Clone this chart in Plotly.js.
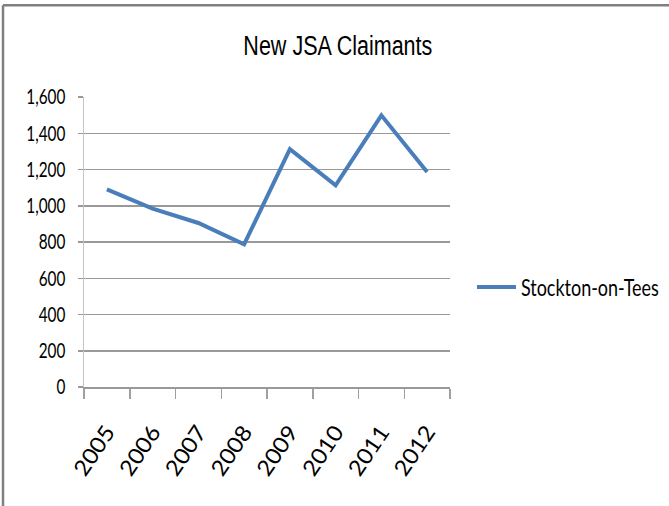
<!DOCTYPE html>
<html>
<head>
<meta charset="utf-8">
<script src="https://cdn.plot.ly/plotly-3.0.1.min.js"></script>
<style>
  html, body { margin: 0; padding: 0; background: #fff; width: 669px; height: 506px; overflow: hidden; }
  #chart { position: absolute; left: 0; top: 0; width: 669px; height: 506px; }
</style>
</head>
<body>
<div id="chart"></div>
<script>
var years = ["2005", "2006", "2007", "2008", "2009", "2010", "2011", "2012"];
var claimants = [1090, 984, 905, 787, 1312, 1113, 1499, 1186];
var seriesName = "Stockton-on-Tees";
var chartTitle = "New JSA Claimants";
var yTickValues = [0, 200, 400, 600, 800, 1000, 1200, 1400, 1600];

var labelFont = "Lato, 'Open Sans', 'Noto Sans', sans-serif";
var titleFont = "'Liberation Sans', Arial, sans-serif";

var trace = {
  x: years,
  y: claimants,
  type: "scatter",
  mode: "lines",
  name: seriesName,
  line: { color: "#4a7ebb", width: 4 }
};

var frameLine = { color: "#808080", width: 2.5 };

var layout = {
  width: 669,
  height: 506,
  paper_bgcolor: "#fff",
  plot_bgcolor: "rgba(0,0,0,0)",
  margin: { l: 84, r: 219, t: 97, b: 119, autoexpand: false },
  title: {
    text: chartTitle,
    x: 0.505, xanchor: "center",
    y: 0.91, yanchor: "middle",
    font: { family: titleFont, size: 28, color: "#000" }
  },
  showlegend: true,
  legend: {
    x: 1.06, xanchor: "left",
    y: 0.345, yanchor: "middle",
    itemwidth: 39,
    font: { family: labelFont, size: 23, color: "#000" },
    bgcolor: "rgba(0,0,0,0)"
  },
  shapes: [
    // outer chart-area frame (top and left edges visible in the reference)
    { type: "line", xref: "paper", yref: "paper", x0: -0.2213, x1: 1.65, y0: 1.316, y1: 1.316, line: frameLine, layer: "above" },
    { type: "line", xref: "paper", yref: "paper", x0: -0.2213, x1: -0.2213, y0: 1.316, y1: -0.45, line: frameLine, layer: "above" }
  ],
  xaxis: {
    type: "category",
    range: [-0.5, 7.5],
    tickson: "boundaries",
    ticks: "outside",
    ticklen: 10,
    tickcolor: "#a0a0a0",
    tickwidth: 1.5,
    showline: true,
    linecolor: "#999",
    linewidth: 1.5,
    showgrid: false,
    tickangle: -56,
    tickfont: { family: labelFont, size: 22, color: "#000" },
    ticklabelstandoff: 22,
    fixedrange: true
  },
  yaxis: {
    range: [0, 1600],
    tickvals: yTickValues,
    tickformat: ",d",
    ticks: "outside",
    ticklen: 5,
    tickcolor: "#999",
    tickwidth: 1.5,
    showline: true,
    linecolor: "#c4c4c4",
    linewidth: 1.5,
    showgrid: true,
    gridcolor: "#999",
    gridwidth: 1.5,
    zeroline: false,
    tickfont: { family: labelFont, size: 21, color: "#000" },
    ticklabelstandoff: 8,
    fixedrange: true
  }
};

// The reference uses a horizontally compressed (narrow) typeface; emulate it by
// narrowing the real text glyphs around their anchor points.
function squash(el, s) {
  var x = parseFloat(el.getAttribute("x")) || 0;
  var y = parseFloat(el.getAttribute("y")) || 0;
  var t = el.getAttribute("transform") || "";
  el.setAttribute("transform", t + " translate(" + x + "," + y + ") scale(" + s + ",1) translate(" + (-x) + "," + (-y) + ")");
}
function squashToWidth(el, target) {
  try {
    var w = el.getBBox().width;
    if (w > 0) squash(el, target / w);
  } catch (e) {}
}

Plotly.newPlot("chart", [trace], layout, { displayModeBar: false, staticPlot: true }).then(function (gd) {
  try {
    gd.querySelectorAll(".ytick text").forEach(function (el) { squash(el, 0.73); });
    gd.querySelectorAll(".xtick text").forEach(function (el) { squash(el, 1.08); });
    var title = gd.querySelector(".gtitle");
    if (title) squashToWidth(title, 189);
    var lt = gd.querySelector(".legendtext");
    if (lt) squashToWidth(lt, 138);
  } catch (e) {}
});
</script>
</body>
</html>
